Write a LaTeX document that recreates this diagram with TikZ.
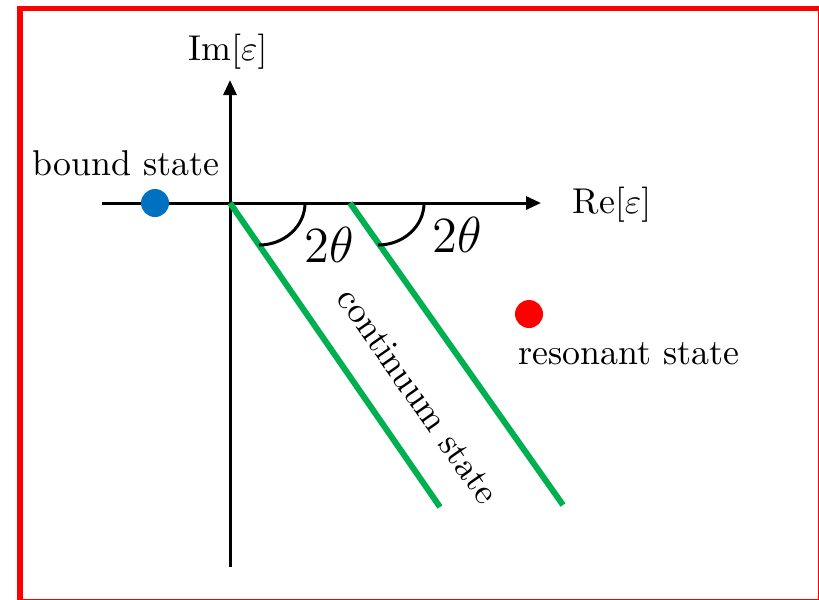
\documentclass[tikz,border=0pt]{standalone}
\usepackage{tikz}
\usetikzlibrary{arrows.meta, positioning, calc}

\definecolor{boundblue}{RGB}{0,112,192}
\definecolor{contgreen}{RGB}{0,176,80}

\begin{document}
\begin{tikzpicture}[
    x=0.01cm, y=-0.01cm,
    >={Triangle[length=0.15cm, width=0.13cm]},
    font=\fontsize{10.2}{12}\selectfont,
    axis/.style={->, line width=0.03cm},
    cut/.style={line width=0.06cm, contgreen},
    dot/.style={circle, inner sep=0pt, minimum size=0.28cm},
    lbl/.style={inner sep=0pt, anchor=base},
    anglbl/.style={font=\fontsize{15.2}{17}\selectfont, inner sep=0pt, anchor=base},
    angarc/.style={line width=0.03cm},
]
\useasboundingbox (0,0) rectangle (819,599);

% --- Frame ---
\draw[red, line width=0.05cm] (20,8.5) rectangle (820,601);

% --- Axes ---
\coordinate (origin) at (230,203);
\coordinate (reL) at (102,203);
\coordinate (reR) at (541,203);
\coordinate (imB) at (230,567);
\coordinate (imT) at (230,80);
\draw[axis] (reL) -- (reR);
\draw[axis] (imB) -- (imT);

\node[lbl] (imlabel) at (228,60) {Im$[\varepsilon]$};
\node[lbl] (relabel) at (612,213) {Re$[\varepsilon]$};

% --- Rotated cuts ---
\coordinate (cutA) at (350,203);
\coordinate (endO) at (440,507);
\coordinate (endA) at (563,505);
\draw[cut] (origin) -- (endO);
\draw[cut] (cutA) -- (endA);

% angles
\draw[angarc] (305,203) arc[start angle=0, end angle=90, x radius=46, y radius=42];
\draw[angarc] (424,203) arc[start angle=0, end angle=90, x radius=46, y radius=42];
\node[anglbl] (angO) at (329,262) {$2\theta$};
\node[anglbl] (angA) at (457,252) {$2\theta$};

\node[rotate=-55, inner sep=0pt] (contlabel) at (418,396) {continuum state};

% --- States ---
\node[dot, fill=boundblue] (bound) at (155,203) {};
\node[lbl] (boundlabel) at (126,175) {bound state};

\node[dot, fill=red] (reson) at (529,314) {};
\node[lbl] (resonlabel) at (629,364) {resonant state};

\end{tikzpicture}
\end{document}
